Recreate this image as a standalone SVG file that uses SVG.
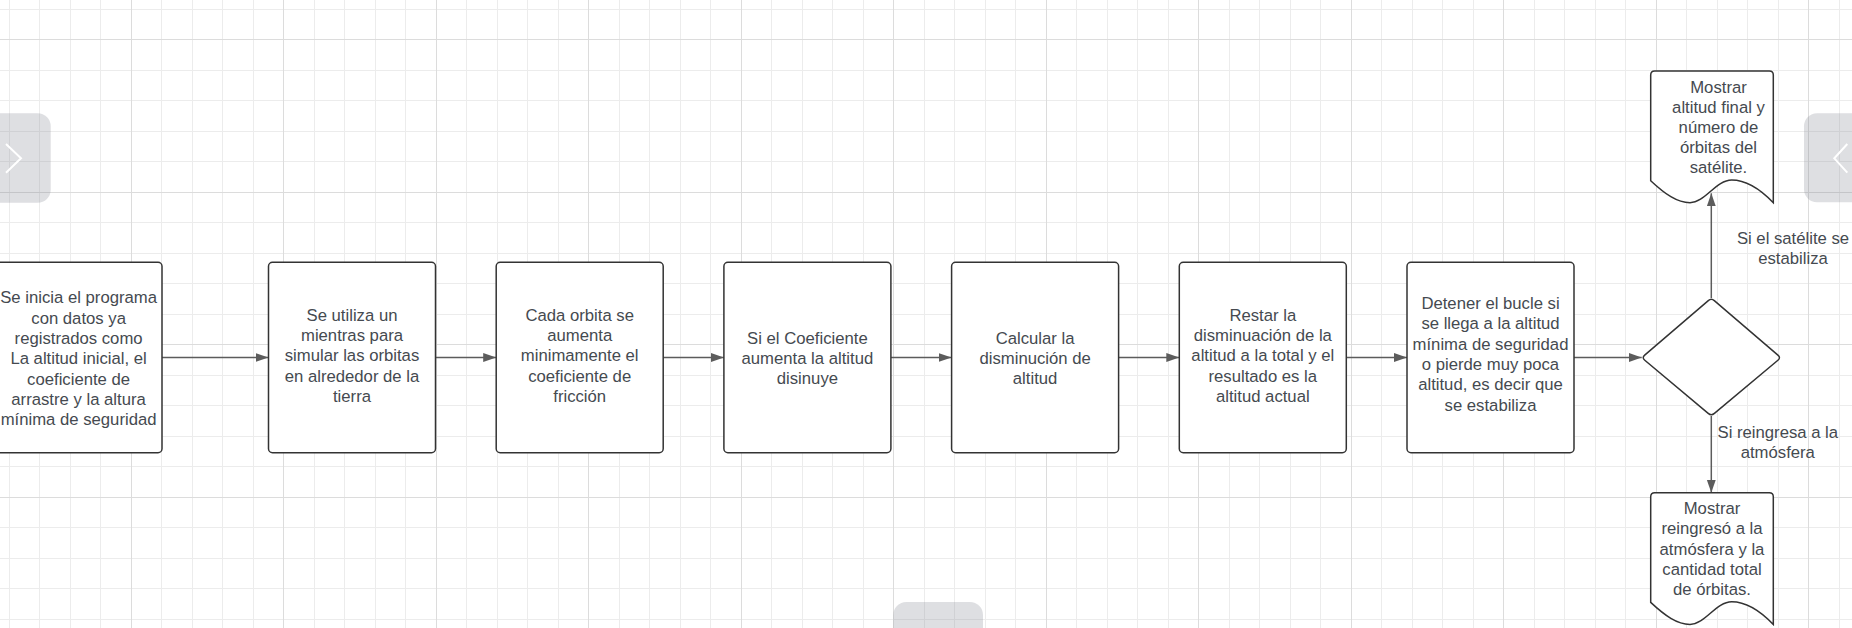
<svg xmlns="http://www.w3.org/2000/svg" width="1852" height="628" viewBox="0 0 1852 628">
<style>
.grid-minor{stroke:#ececec;stroke-width:1;fill:none;shape-rendering:crispEdges}
.grid-major{stroke:#dcdcdc;stroke-width:1;fill:none;shape-rendering:crispEdges}
.box{fill:#ffffff;stroke:#333333;stroke-width:1.5}
.conn{stroke:#5c5c5c;stroke-width:1.5;fill:none}
.t{font-family:"Liberation Sans",Arial,sans-serif;font-size:16.7px;fill:#454a50;text-anchor:middle}
.pill{fill:rgba(133,136,148,0.27)}
.chev{stroke:#ffffff;stroke-width:2;fill:none}
</style>
<defs>
<marker id="arr" markerUnits="userSpaceOnUse" markerWidth="14" markerHeight="10" refX="13" refY="4.5" orient="auto">
<path d="M0,0 L13,4.5 L0,9 Z" fill="#5c5c5c"/>
</marker>
</defs>
<rect x="0" y="0" width="1852" height="628" fill="#ffffff"/>
<g id="grid">
<path class="grid-minor" d="M9.3,0V628M39.8,0V628M70.3,0V628M100.8,0V628M161.8,0V628M192.3,0V628M222.8,0V628M253.3,0V628M314.3,0V628M344.8,0V628M375.3,0V628M405.8,0V628M466.8,0V628M497.3,0V628M527.8,0V628M558.3,0V628M619.3,0V628M649.8,0V628M680.3,0V628M710.8,0V628M771.8,0V628M802.3,0V628M832.8,0V628M863.3,0V628M924.3,0V628M954.8,0V628M985.3,0V628M1015.8,0V628M1076.8,0V628M1107.3,0V628M1137.8,0V628M1168.3,0V628M1229.3,0V628M1259.8,0V628M1290.3,0V628M1320.8,0V628M1381.8,0V628M1412.3,0V628M1442.8,0V628M1473.3,0V628M1534.3,0V628M1564.8,0V628M1595.3,0V628M1625.8,0V628M1686.8,0V628M1717.3,0V628M1747.8,0V628M1778.3,0V628M1839.3,0V628M0,9.3H1852M0,70.3H1852M0,100.8H1852M0,131.3H1852M0,161.8H1852M0,222.8H1852M0,253.3H1852M0,283.8H1852M0,314.3H1852M0,375.3H1852M0,405.8H1852M0,436.3H1852M0,466.8H1852M0,527.8H1852M0,558.3H1852M0,588.8H1852M0,619.3H1852"/>
<path class="grid-major" d="M131.3,0V628M283.8,0V628M436.3,0V628M588.8,0V628M741.3,0V628M893.8,0V628M1046.3,0V628M1198.8,0V628M1351.3,0V628M1503.8,0V628M1656.3,0V628M1808.8,0V628M0,39.8H1852M0,192.3H1852M0,344.8H1852M0,497.3H1852"/>
</g>
<g id="connectors">
<path class="conn" marker-end="url(#arr)" d="M162,357.5H268.5"/>
<path class="conn" marker-end="url(#arr)" d="M435.5,357.5H496.2"/>
<path class="conn" marker-end="url(#arr)" d="M663.2,357.5H723.9"/>
<path class="conn" marker-end="url(#arr)" d="M890.9,357.5H951.6"/>
<path class="conn" marker-end="url(#arr)" d="M1118.6,357.5H1179.3"/>
<path class="conn" marker-end="url(#arr)" d="M1346.3,357.5H1407"/>
<path class="conn" marker-end="url(#arr)" d="M1574,357.5H1641.7"/>
<path class="conn" marker-end="url(#arr)" d="M1711.3,298V193.3"/>
<path class="conn" marker-end="url(#arr)" d="M1711.3,416V492.7"/>
<text class="t" x="1793" y="244.3">Si el satélite se</text>
<text class="t" x="1793" y="264.3">estabiliza</text>
<text class="t" x="1777.8" y="438.3">Si reingresa a la</text>
<text class="t" x="1777.8" y="458">atmósfera</text>
</g>
<g id="n1">
<rect class="box" x="-5" y="262.3" width="167" height="190.4" rx="4"/>
<text class="t" x="78.6" y="303.3">Se inicia el programa</text>
<text class="t" x="78.6" y="323.6">con datos ya</text>
<text class="t" x="78.6" y="343.9">registrados como</text>
<text class="t" x="78.6" y="364.2">La altitud inicial, el</text>
<text class="t" x="78.6" y="384.5">coeficiente de</text>
<text class="t" x="78.6" y="404.8">arrastre y la altura</text>
<text class="t" x="78.6" y="425.1">mínima de seguridad</text>
</g>
<g id="n2">
<rect class="box" x="268.5" y="262.3" width="167" height="190.4" rx="4"/>
<text class="t" x="352" y="320.7">Se utiliza un</text>
<text class="t" x="352" y="341">mientras para</text>
<text class="t" x="352" y="361.3">simular las orbitas</text>
<text class="t" x="352" y="381.6">en alrededor de la</text>
<text class="t" x="352" y="401.9">tierra</text>
</g>
<g id="n3">
<rect class="box" x="496.2" y="262.3" width="167" height="190.4" rx="4"/>
<text class="t" x="579.7" y="320.7">Cada orbita se</text>
<text class="t" x="579.7" y="341">aumenta</text>
<text class="t" x="579.7" y="361.3">minimamente el</text>
<text class="t" x="579.7" y="381.6">coeficiente de</text>
<text class="t" x="579.7" y="401.9">fricción</text>
</g>
<g id="n4">
<rect class="box" x="723.9" y="262.3" width="167" height="190.4" rx="4"/>
<text class="t" x="807.4" y="343.5">Si el Coeficiente</text>
<text class="t" x="807.4" y="363.8">aumenta la altitud</text>
<text class="t" x="807.4" y="384.1">disinuye</text>
</g>
<g id="n5">
<rect class="box" x="951.6" y="262.3" width="167" height="190.4" rx="4"/>
<text class="t" x="1035.1" y="343.5">Calcular la</text>
<text class="t" x="1035.1" y="363.8">disminución de</text>
<text class="t" x="1035.1" y="384.1">altitud</text>
</g>
<g id="n6">
<rect class="box" x="1179.3" y="262.3" width="167" height="190.4" rx="4"/>
<text class="t" x="1262.8" y="320.7">Restar la</text>
<text class="t" x="1262.8" y="341">disminuación de la</text>
<text class="t" x="1262.8" y="361.3">altitud a la total y el</text>
<text class="t" x="1262.8" y="381.6">resultado es la</text>
<text class="t" x="1262.8" y="401.9">altitud actual</text>
</g>
<g id="n7">
<rect class="box" x="1407" y="262.3" width="167" height="190.4" rx="4"/>
<text class="t" x="1490.5" y="309">Detener el bucle si</text>
<text class="t" x="1490.5" y="329.3">se llega a la altitud</text>
<text class="t" x="1490.5" y="349.6">mínima de seguridad</text>
<text class="t" x="1490.5" y="369.9">o pierde muy poca</text>
<text class="t" x="1490.5" y="390.2">altitud, es decir que</text>
<text class="t" x="1490.5" y="410.5">se estabiliza</text>
</g>
<g id="decision">
<path class="box" d="M1644.7,355.1 L1708.3,300.6 Q1711.3,298 1714.3,300.6 L1777.9,355.1 Q1781,357.7 1777.9,360.3 L1714.4,413.4 Q1711.3,416 1708.2,413.4 L1644.8,360.3 Q1641.7,357.7 1644.7,355.1 Z"/>
</g>
<g id="doc-estable">
<path class="box" d="M1650.7,75 Q1650.7,71 1654.7,71 H1769.3 Q1773.3,71 1773.3,75 V202.7 C1763,192 1748,180 1731.7,180 C1716,180 1705,202.7 1690,202.7 C1677,202.7 1665,194 1650.7,180.7 Z"/>
<text class="t" x="1718.5" y="92.5">Mostrar</text>
<text class="t" x="1718.5" y="112.6">altitud final y</text>
<text class="t" x="1718.5" y="132.7">número de</text>
<text class="t" x="1718.5" y="152.8">órbitas del</text>
<text class="t" x="1718.5" y="172.9">satélite.</text>
</g>
<g id="doc-reingreso">
<path class="box" d="M1650.7,496.7 Q1650.7,492.7 1654.7,492.7 H1769.3 Q1773.3,492.7 1773.3,496.7 V624.4 C1763,613.7 1748,601.7 1731.7,601.7 C1716,601.7 1705,624.4 1690,624.4 C1677,624.4 1665,615.7 1650.7,602.4 Z"/>
<text class="t" x="1712" y="514">Mostrar</text>
<text class="t" x="1712" y="534.2">reingresó a la</text>
<text class="t" x="1712" y="554.5">atmósfera y la</text>
<text class="t" x="1712" y="574.8">cantidad total</text>
<text class="t" x="1712" y="595">de órbitas.</text>
</g>
<g id="ui">
<rect class="pill" x="-20" y="113.3" width="70.7" height="89.4" rx="13"/>
<polyline class="chev" points="6,144 21,158.3 6,172.7"/>
<rect class="pill" x="1804" y="113.3" width="70" height="88.9" rx="13"/>
<polyline class="chev" points="1847.3,144 1834.3,158.3 1847.3,172.7"/>
<rect class="pill" x="893.3" y="602" width="89.7" height="50" rx="13"/>
</g>
</svg>
